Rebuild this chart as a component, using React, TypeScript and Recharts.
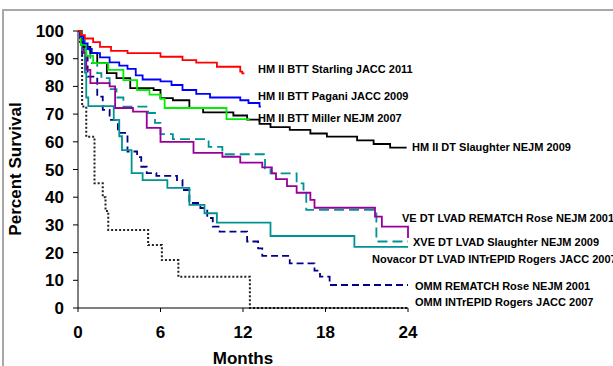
import { LineChart, Line, XAxis, YAxis } from "recharts";

document.body.style.margin = "0";

const FONT = "'Liberation Sans', Arial, Helvetica, sans-serif";

const xTicks = [0, 6, 12, 18, 24];
const yTicks = [0, 10, 20, 30, 40, 50, 60, 70, 80, 90, 100];

// Kaplan-Meier curves, months vs percent survival
const starlingMonths = [0, 0.2, 0.5, 1.1, 1.6, 2.4, 3.6, 6.0, 7.6, 8.6, 10.1, 11.8, 11.95, 12.1];
const starlingSurv = [100, 98.5, 97.3, 96, 94.3, 92.8, 92, 90.7, 89.5, 88.6, 87.1, 85.3, 84.7, 84.7];

const paganiMonths = [0, 0.15, 0.4, 0.7, 1.0, 1.6, 2.3, 3.0, 3.6, 4.2, 4.7, 6.0, 6.8, 7.6, 8.6, 9.6, 11.8, 12.4, 13.2, 13.3];
const paganiSurv = [100, 98, 95.5, 93.5, 92, 90.5, 88.7, 87.5, 86.3, 84, 82.5, 81.8, 80.5, 78.7, 77.3, 76, 75, 74, 72.7, 72.7];

const millerMonths = [0, 0.2, 0.6, 1.1, 2.2, 3.3, 4.3, 5.2, 6.0, 6.3, 10.8, 12.5];
const millerSurv = [100, 95, 91, 88.4, 86, 82.3, 78.7, 77, 75.5, 72.2, 68.2, 68.2];

const dtMonths = [0, 0.2, 0.4, 0.9, 1.4, 2.1, 2.8, 3.8, 5.5, 6.0, 6.9, 8.1, 9.1, 11.3, 12.3, 13.2, 14.0, 15.4, 16.9, 18.1, 20.3, 21.5, 22.7, 23.9];
const dtSurv = [100, 96, 94.3, 92, 88.4, 84.8, 83, 79.4, 78.7, 75.8, 75, 72.2, 70.6, 69.5, 68, 66.5, 65.3, 64.3, 63, 61.9, 60.5, 59.2, 57.9, 57.9];

const veMonths = [0, 0.2, 0.4, 0.6, 0.9, 2.3, 2.7, 4.0, 5.0, 6.0, 8.4, 10.5, 11.8, 13.4, 14.1, 14.4, 15.2, 15.9, 16.9, 17.2, 21.6, 22.1, 24];
const veSurv = [100, 96, 92, 86, 81.2, 80, 72.2, 70.9, 65, 60, 56, 54.6, 52.5, 50.8, 48.6, 46.5, 44, 41.6, 39, 36.2, 33, 29.4, 25.3];

const xveMonths = [0, 0.3, 0.9, 1.4, 1.7, 2.3, 2.8, 3.3, 5.1, 5.6, 6.0, 6.9, 9.5, 10.5, 13.6, 14.0, 15.9, 16.4, 16.6, 21.7, 24];
const xveSurv = [100, 93, 88.4, 84.8, 83, 79, 76, 72.7, 70.4, 66.8, 62.8, 61, 58.2, 55.5, 50.4, 48.6, 45, 42, 35.4, 24, 24];

const novacorMonths = [0, 0.2, 0.5, 0.6, 0.75, 2.6, 3.0, 3.2, 3.9, 4.7, 6.5, 8.1, 9.2, 10.1, 14.0, 20.1, 24];
const novacorSurv = [100, 96.7, 85, 76, 72.9, 67.9, 62, 57, 48.7, 46.2, 43.4, 37.2, 34.2, 30.8, 26, 22.1, 22.1];

const ommRematchMonths = [0, 0.3, 0.7, 1.4, 1.8, 2.3, 2.9, 3.6, 4.3, 4.6, 5.0, 5.7, 7.2, 7.6, 8.1, 8.9, 9.4, 9.8, 10.3, 12.3, 13.1, 13.4, 15.4, 17.2, 17.6, 18.3, 24];
const ommRematchSurv = [100, 90.7, 83.5, 76.3, 71.5, 67.9, 63.2, 56.5, 54.5, 51, 48.7, 47.7, 46.2, 42.6, 37.9, 36.1, 32.5, 29.4, 27.6, 24, 21.5, 18.8, 16.1, 13.5, 11.3, 8.3, 8.3];

const ommIntrepidMonths = [0, 0.15, 0.3, 0.6, 1.2, 1.8, 2.0, 2.2, 5.1, 6.1, 7.3, 12.5, 24];
const ommIntrepidSurv = [100, 95, 72.7, 61.8, 45, 40, 35, 28.2, 22.7, 17.3, 11.3, 0, 0];

const toPoints = (m: number[], v: number[]) => m.map((x, i) => ({ m: x, v: v[i] }));

const series = [
  { key: "ommIntrepid", data: toPoints(ommIntrepidMonths, ommIntrepidSurv), color: "#222222", width: 2, dash: "2 2" },
  { key: "ommRematch", data: toPoints(ommRematchMonths, ommRematchSurv), color: "#000088", width: 1.8, dash: "7 4" },
  { key: "novacor", data: toPoints(novacorMonths, novacorSurv), color: "#009393", width: 1.8 },
  { key: "xve", data: toPoints(xveMonths, xveSurv), color: "#009393", width: 1.8, dash: "10 5" },
  { key: "ve", data: toPoints(veMonths, veSurv), color: "#990099", width: 1.8 },
  { key: "dt", data: toPoints(dtMonths, dtSurv), color: "#000000", width: 1.8 },
  { key: "miller", data: toPoints(millerMonths, millerSurv), color: "#00ee00", width: 1.8 },
  { key: "pagani", data: toPoints(paganiMonths, paganiSurv), color: "#0000ff", width: 1.8 },
  { key: "starling", data: toPoints(starlingMonths, starlingSurv), color: "#ff0000", width: 1.8 },
];

const curveLabels = [
  { text: "HM II BTT Starling JACC 2011", x: 258, y: 69 },
  { text: "HM II BTT Pagani JACC 2009", x: 258, y: 96 },
  { text: "HM II BTT Miller NEJM 2007", x: 258, y: 118 },
  { text: "HM II DT Slaughter NEJM 2009", x: 412, y: 147 },
  { text: "VE DT LVAD REMATCH Rose NEJM 2001", x: 402, y: 218 },
  { text: "XVE DT LVAD Slaughter NEJM 2009", x: 413, y: 242 },
  { text: "Novacor DT LVAD INTrEPID Rogers JACC 2007", x: 372, y: 259 },
  { text: "OMM REMATCH Rose NEJM 2001", x: 415, y: 286 },
  { text: "OMM INTrEPID Rogers JACC 2007", x: 415, y: 302 },
];

const tickStyle = { fill: "#000", fontSize: 17, fontWeight: 700, fontFamily: FONT };

export default function App() {
  return (
    <div style={{ position: "relative", width: 613, height: 366, overflow: "hidden", background: "#fff" }}>
      <div
        style={{
          position: "absolute",
          left: 2,
          top: 9,
          width: 700,
          height: 500,
          border: "2px solid #a8a8a8",
        }}
      />
      <div style={{ position: "absolute", left: 0, top: 0 }}>
        <LineChart width={613} height={366} margin={{ top: 31, right: 205, bottom: 18, left: 18 }}>
          <XAxis
            type="number"
            dataKey="m"
            domain={[0, 24]}
            ticks={xTicks}
            allowDuplicatedCategory={false}
            height={40}
            tickSize={4}
            tickMargin={14}
            stroke="#000"
            tick={tickStyle}
          />
          <YAxis
            type="number"
            dataKey="v"
            domain={[0, 100]}
            ticks={yTicks}
            interval={0}
            width={60}
            tickSize={5}
            tickMargin={9}
            stroke="#000"
            tick={tickStyle}
          />
          {series.map((s) => (
            <Line
              key={s.key}
              data={s.data}
              dataKey="v"
              type="stepAfter"
              stroke={s.color}
              strokeWidth={s.width}
              strokeDasharray={s.dash}
              dot={false}
              activeDot={false}
              isAnimationActive={false}
            />
          ))}
        </LineChart>
      </div>
      <svg width={613} height={366} style={{ position: "absolute", left: 0, top: 0, pointerEvents: "none" }}>
        <text
          transform="translate(21,169) rotate(-90)"
          textAnchor="middle"
          fontFamily={FONT}
          fontWeight={700}
          fontSize={17}
          fill="#000"
        >
          Percent Survival
        </text>
        <text x={243} y={364} textAnchor="middle" fontFamily={FONT} fontWeight={700} fontSize={17} fill="#000">
          Months
        </text>
        {curveLabels.map((l) => (
          <text
            key={l.text}
            x={l.x}
            y={l.y}
            dominantBaseline="central"
            fontFamily={FONT}
            fontWeight={700}
            fontSize={11}
            fill="#000"
          >
            {l.text}
          </text>
        ))}
      </svg>
    </div>
  );
}
